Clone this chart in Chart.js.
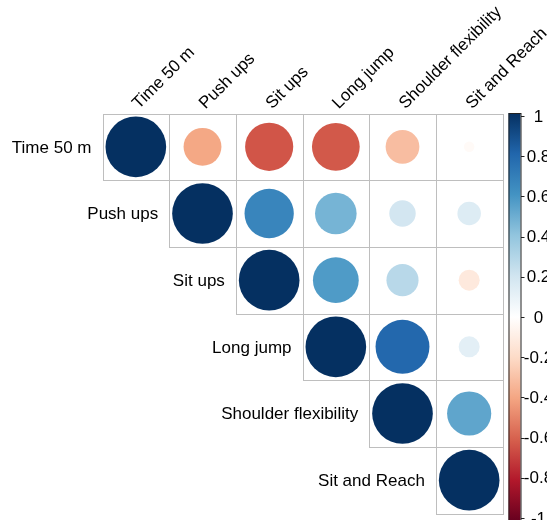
<!DOCTYPE html>
<html>
<head>
<meta charset="utf-8">
<script src="https://cdn.jsdelivr.net/npm/chart.js@4/dist/chart.umd.min.js"></script>
<style>
  html, body { margin: 0; padding: 0; background: #ffffff; }
  canvas { display: block; }
</style>
</head>
<body>
<canvas id="corr" width="547" height="520"></canvas>
<script>
// Variables, in matrix order
const variables = ["Time 50 m", "Push ups", "Sit ups", "Long jump", "Shoulder flexibility", "Sit and Reach"];

// Upper triangle of the correlation matrix; each row starts at its diagonal cell
const rowTime50   = [1, -0.39, -0.63, -0.62, -0.31, -0.03];
const rowPushUps  = [1, 0.66, 0.47, 0.19, 0.15];
const rowSitUps   = [1, 0.57, 0.28, -0.12];
const rowLongJump = [1, 0.79, 0.12];
const rowShoulder = [1, 0.53];
const rowReach    = [1];
const corrRows = [rowTime50, rowPushUps, rowSitUps, rowLongJump, rowShoulder, rowReach];

// Colour legend ticks
const legendValues = [1, 0.8, 0.6, 0.4, 0.2, 0, -0.2, -0.4, -0.6, -0.8, -1];
const legendLabels = ["1", "0.8", "0.6", "0.4", "0.2", "0", "-0.2", "-0.4", "-0.6", "-0.8", "-1"];

// Diverging red-blue palette, from -1 to 1
const rdBu = ["#67001F", "#B2182B", "#D6604D", "#F4A582", "#FDDBC7", "#FFFFFF",
              "#D1E5F0", "#92C5DE", "#4393C3", "#2166AC", "#053061"];

const FONT = '"Liberation Sans", Arial, sans-serif';
const FONT_SIZE = 17;

function hexToRgb(h) {
  return [parseInt(h.slice(1, 3), 16), parseInt(h.slice(3, 5), 16), parseInt(h.slice(5, 7), 16)];
}
function colorFor(v) {
  const t = Math.max(0, Math.min(1, (v + 1) / 2)) * (rdBu.length - 1);
  const i = Math.min(rdBu.length - 2, Math.floor(t));
  const f = t - i;
  const a = hexToRgb(rdBu[i]), b = hexToRgb(rdBu[i + 1]);
  const c = a.map((x, k) => Math.round(x + (b[k] - x) * f));
  return `rgb(${c[0]},${c[1]},${c[2]})`;
}

// One point per upper-triangle cell
const points = [];
corrRows.forEach((row, i) => {
  row.forEach((v, k) => points.push({ x: i + k, y: i, v: v }));
});

function cellSize(chart) {
  const xs = chart.scales.x;
  return Math.abs(xs.getPixelForValue(1) - xs.getPixelForValue(0));
}

// Cell borders behind the circles
const cellGrid = {
  id: 'cellGrid',
  beforeDatasetsDraw(chart) {
    const { ctx } = chart;
    const xs = chart.scales.x, ys = chart.scales.y;
    ctx.save();
    ctx.strokeStyle = '#BEBEBE';
    ctx.lineWidth = 1;
    points.forEach(p => {
      const x0 = xs.getPixelForValue(p.x - 0.5), x1 = xs.getPixelForValue(p.x + 0.5);
      const y0 = ys.getPixelForValue(p.y - 0.5), y1 = ys.getPixelForValue(p.y + 0.5);
      ctx.strokeRect(Math.round(x0) + 0.5, Math.round(y0) + 0.5,
                     Math.round(x1) - Math.round(x0), Math.round(y1) - Math.round(y0));
    });
    ctx.restore();
  }
};

// Variable names along the top and along the diagonal
const varLabels = {
  id: 'varLabels',
  afterDraw(chart) {
    const { ctx } = chart;
    const xs = chart.scales.x, ys = chart.scales.y;
    ctx.save();
    ctx.fillStyle = '#000000';
    ctx.font = `${FONT_SIZE}px ${FONT}`;
    // row labels, right-aligned just left of each row's first cell
    ctx.textAlign = 'right';
    ctx.textBaseline = 'middle';
    variables.forEach((name, i) => {
      ctx.fillText(name, xs.getPixelForValue(i - 0.5) - 11, ys.getPixelForValue(i) + 1);
    });
    // column labels, rotated 45 degrees
    const top = ys.getPixelForValue(-0.5);
    ctx.textAlign = 'left';
    ctx.textBaseline = 'alphabetic';
    variables.forEach((name, j) => {
      ctx.save();
      ctx.translate(xs.getPixelForValue(j) + 3, top - 4);
      ctx.rotate(-Math.PI / 4);
      ctx.fillText(name, 0, 0);
      ctx.restore();
    });
    ctx.restore();
  }
};

// Colour legend on the right
const colorLegend = {
  id: 'colorLegend',
  afterDraw(chart) {
    const { ctx, chartArea } = chart;
    const left = chartArea.right + 6, right = chartArea.right + 18;
    const top = chartArea.top - 0.5, bottom = chartArea.bottom + 7.5;
    ctx.save();
    const g = ctx.createLinearGradient(0, bottom, 0, top);
    rdBu.forEach((c, i) => g.addColorStop(i / (rdBu.length - 1), c));
    ctx.fillStyle = g;
    ctx.fillRect(left, top, right - left, bottom - top);
    ctx.strokeStyle = '#222222';
    ctx.lineWidth = 1;
    ctx.strokeRect(left + 0.5, top + 0.5, right - left, bottom - top);
    const lTop = top + 3, lBottom = bottom - 3;
    ctx.font = `${FONT_SIZE}px ${FONT}`;
    ctx.fillStyle = '#000000';
    ctx.textAlign = 'center';
    ctx.textBaseline = 'middle';
    legendValues.forEach((v, i) => {
      const y = lTop + (1 - v) / 2 * (lBottom - lTop);
      ctx.beginPath();
      ctx.moveTo(right + 0.5, Math.round(y) + 0.5);
      ctx.lineTo(right + 4, Math.round(y) + 0.5);
      ctx.stroke();
      ctx.fillText(legendLabels[i], right + 18, y + 1);
    });
    ctx.restore();
  }
};

new Chart(document.getElementById('corr'), {
  type: 'scatter',
  data: {
    datasets: [{
      data: points,
      pointStyle: 'circle',
      borderWidth: 0,
      pointHoverRadius: ctx => 0,
      pointRadius: ctx => 0.455 * cellSize(ctx.chart) * Math.sqrt(Math.abs(ctx.raw.v)),
      backgroundColor: ctx => colorFor(ctx.raw.v),
      borderColor: ctx => colorFor(ctx.raw.v)
    }]
  },
  options: {
    responsive: false,
    animation: false,
    events: [],
    devicePixelRatio: 1,
    layout: { padding: { left: 102.5, right: 44.5, top: 113.5, bottom: 6.5 } },
    scales: {
      x: { type: 'linear', min: -0.5, max: 5.5, display: false },
      y: { type: 'linear', min: -0.5, max: 5.5, reverse: true, display: false }
    },
    plugins: { legend: { display: false }, tooltip: { enabled: false } }
  },
  plugins: [cellGrid, varLabels, colorLegend]
});
</script>
</body>
</html>
